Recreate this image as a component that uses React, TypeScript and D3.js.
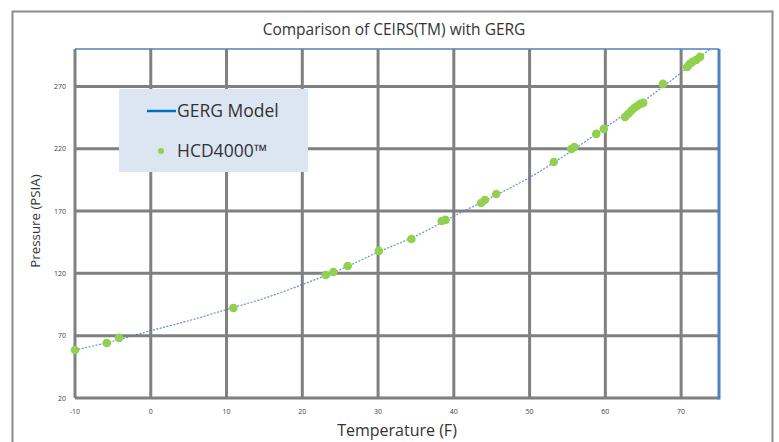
import React from "react";
import * as d3 from "d3";

const xTicks = [-10, 0, 10, 20, 30, 40, 50, 60, 70];
const yTicks = [20, 70, 120, 170, 220, 270];

const modelTemp = [-10, -5, 0, 5, 10, 15, 20, 25, 30, 35, 40, 45, 50, 55, 60, 65, 70, 75];
const modelPress = [58.5, 65.5, 74, 82, 91, 100, 111, 123, 137, 150, 166, 181, 197, 216, 237, 258, 281, 306];

const hcdTemp = [-10, -5.8, -4.2, 10.9, 23.1, 24.1, 26.0, 30.1, 34.4, 38.4, 38.9, 43.6, 44.1, 45.6, 53.2, 55.5, 55.9, 58.8, 59.8, 62.6, 63.0, 63.4, 63.8, 64.2, 64.6, 65.0, 67.6, 70.8, 71.1, 71.5, 72.0, 72.5];
const hcdPress = [58.5, 64.1, 68.2, 92.2, 118.7, 121.1, 125.9, 138, 147.6, 162, 162.9, 176.5, 178.9, 183.7, 209.4, 219.8, 221.4, 231.9, 235.9, 245.5, 247.9, 250.3, 252.7, 254.3, 256, 256.8, 272, 285.6, 288, 289.7, 291.3, 293.7];

const W = 779;
const H = 442;
const L = 75, R = 719, T = 49, B = 398;

export default function App() {
  const x = d3.scaleLinear().domain([-10, 75]).range([L, R]);
  const y = d3.scaleLinear().domain([20, 300]).range([B, T]);
  const line = d3
    .line<number>()
    .x((_, i) => x(modelTemp[i]))
    .y((d) => y(d))
    .curve(d3.curveCatmullRom);
  const font = "'Open Sans', sans-serif";
  return (
    <svg
      width={W}
      height={H}
      style={{ position: "absolute", left: 0, top: 0, background: "#fff" }}
      fontFamily={font}
    >
      <defs>
        <clipPath id="plot">
          <rect x={L} y={T} width={R - L} height={B - T} />
        </clipPath>
      </defs>
      <rect x={12.5} y={11.5} width={760} height={460} fill="none" stroke="#8c8c8c" strokeWidth={2} />
      <text x={394} y={35} textAnchor="middle" fontSize={15.5} fill="#333">
        Comparison of CEIRS(TM) with GERG
      </text>
      {/* grid */}
      {xTicks.map((t) => (
        <line key={"gx" + t} x1={x(t)} x2={x(t)} y1={T} y2={B} stroke="#808080" strokeWidth={3} />
      ))}
      {yTicks.map((t) => (
        <line key={"gy" + t} x1={L} x2={R} y1={y(t)} y2={y(t)} stroke="#808080" strokeWidth={3} />
      ))}
      <line x1={L} x2={R} y1={T} y2={T} stroke="#4f81bd" strokeWidth={1.5} />
      <line x1={R} x2={R} y1={T} y2={B + 1.5} stroke="#4f81bd" strokeWidth={3} />
      {/* tick labels */}
      {xTicks.map((t) => (
        <text key={"lx" + t} x={x(t)} y={414} textAnchor="middle" fontSize={7} fill="#404040">
          {t}
        </text>
      ))}
      {yTicks.map((t) => (
        <text key={"ly" + t} x={66} y={y(t) + 2.5} textAnchor="end" fontSize={7} fill="#404040">
          {t}
        </text>
      ))}
      {/* model curve */}
      <g clipPath="url(#plot)">
        <path d={line(modelPress) || ""} fill="none" stroke="#4a7ebb" strokeWidth={1.2} strokeDasharray="2,1.5" opacity={0.85} />
      </g>
      {/* data points */}
      {hcdPress.map((p, i) => (
        <circle key={"p" + i} cx={x(hcdTemp[i])} cy={y(p)} r={4.3} fill="#92d050" />
      ))}
      {/* legend */}
      <rect x={119} y={89} width={189} height={83} fill="#dce6f2" />
      <line x1={147} x2={176} y1={111} y2={111} stroke="#0070c0" strokeWidth={2.5} />
      <text x={177} y={117} fontSize={17.5} fill="#333">GERG Model</text>
      <circle cx={161} cy={151} r={3} fill="#92d050" />
      <text x={177} y={157} fontSize={17.5} fill="#333">HCD4000™</text>
      {/* axis titles */}
      <text x={397} y={436} textAnchor="middle" fontSize={16} fill="#333">
        Temperature (F)
      </text>
      <text
        transform="translate(40,221) rotate(-90)"
        textAnchor="middle"
        fontSize={13.3}
        fill="#333"
      >
        Pressure (PSIA)
      </text>
    </svg>
  );
}
